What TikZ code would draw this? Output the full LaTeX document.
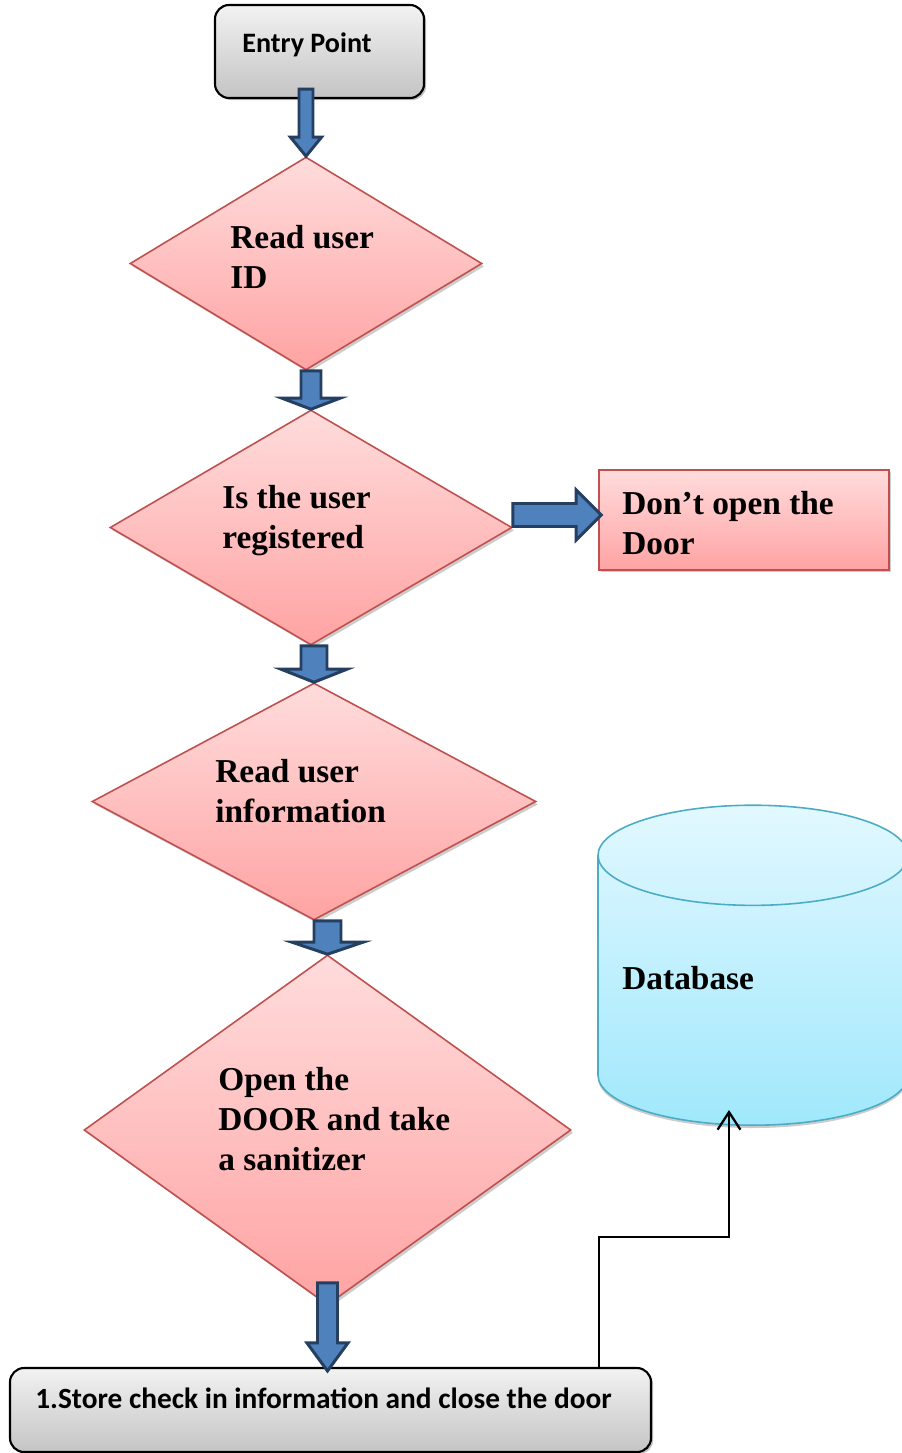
\documentclass[tikz,border=0pt]{standalone}
\usepackage{fontspec}
\setmainfont{Liberation Serif}
\newfontfamily\calibrifont{Carlito}
\usetikzlibrary{shapes.geometric,shadows,calc,arrows.meta}

\definecolor{pinktop}{HTML}{FFDCDC}
\definecolor{pinkbot}{HTML}{FFA3A3}
\definecolor{pinkline}{HTML}{C0504D}
\definecolor{graytop}{HTML}{F2F2F2}
\definecolor{graybot}{HTML}{C4C4C4}
\definecolor{cyantop}{HTML}{E2F8FF}
\definecolor{cyanbot}{HTML}{A0E8FC}
\definecolor{cyanline}{HTML}{4BACC6}
\definecolor{arrowfill}{HTML}{4F81BD}
\definecolor{arrowline}{HTML}{243F60}

\newcommand{\pxu}{0.02cm}

\begin{document}
\begin{tikzpicture}[x=0.02cm, y=-0.02cm,
    decision/.style={diamond, draw=pinkline, line width=0.9pt, top color=pinktop, bottom color=pinkbot, inner sep=0pt, drop shadow={shadow xshift=1.3pt, shadow yshift=-1.6pt, opacity=.4}},
    terminal/.style={rectangle, rounded corners=8pt, draw=black, line width=1.2pt, top color=graytop, bottom color=graybot, drop shadow={shadow xshift=1.2pt, shadow yshift=-1.2pt, opacity=.5}},
    stopbox/.style={rectangle, draw=pinkline, line width=0.9pt, top color=pinktop, bottom color=pinkbot, drop shadow={shadow xshift=1.2pt, shadow yshift=-1.2pt, opacity=.4}},
    dbstore/.style={cylinder, shape border rotate=90, inner sep=5pt, aspect=5.7, draw=cyanline, line width=0.9pt, top color=cyantop, bottom color=cyanbot, drop shadow={shadow xshift=0pt, shadow yshift=-1.6pt, opacity=.4}},
    lbl/.style={inner sep=0pt, anchor=north west, align=left, font=\bfseries\fontsize{19}{22.8}\selectfont},
    boxlbl/.style={inner sep=0pt, anchor=north west, align=left, font=\calibrifont\bfseries\fontsize{16}{19.2}\selectfont},
    blockarrow/.style={draw=arrowline, fill=arrowfill, line width=1.7pt},
    blockdown/.style n args={3}{to path={($(\tikztostart)+(-#1,0)$) -- ($(\tikztotarget)+(-#1,-#3)$) -- ($(\tikztotarget)+(-#2,-#3)$) -- (\tikztotarget) -- ($(\tikztotarget)+(#2,-#3)$) -- ($(\tikztotarget)+(#1,-#3)$) -- ($(\tikztostart)+(#1,0)$) -- cycle}},
    blockright/.style n args={3}{to path={($(\tikztostart)+(0,-#1)$) -- ($(\tikztotarget)+(-#3,-#1)$) -- ($(\tikztotarget)+(-#3,-#2)$) -- (\tikztotarget) -- ($(\tikztotarget)+(-#3,#2)$) -- ($(\tikztotarget)+(-#3,#1)$) -- ($(\tikztostart)+(0,#1)$) -- cycle}},
    feed/.style={line width=1.3pt, -{Straight Barb[length=10pt, width=13pt]}}]

  \useasboundingbox (0,0) rectangle (902,1453);
  \clip (0,0) rectangle (902,1453);

  % shapes
  \node[terminal, minimum width=209*\pxu, minimum height=93*\pxu] (entry) at (319.5,51.5) {};
  \node[decision, minimum width=352*\pxu, minimum height=213*\pxu] (readid) at (306,263.5) {};
  \node[decision, minimum width=402*\pxu, minimum height=235*\pxu] (isreg) at (311,527.5) {};
  \node[stopbox, minimum width=290*\pxu, minimum height=100*\pxu] (dont) at (744,520) {};
  \node[decision, minimum width=444*\pxu, minimum height=237*\pxu] (readinfo) at (314,801.5) {};
  \node[decision, minimum width=487*\pxu, minimum height=350*\pxu] (opendoor) at (327.5,1130) {};
  \node[dbstore, minimum width=310*\pxu, minimum height=320*\pxu, anchor=south] (db) at (753,1126) {};
  \node[terminal, minimum width=641*\pxu, minimum height=84*\pxu] (store) at (330.5,1410) {};

  % texts
  \node[boxlbl] (entrytxt) at (242,32) {Entry Point};
  \node[lbl] (readidtxt) at (230,225) {Read user\\ID};
  \node[lbl] (isregtxt) at (222,485) {Is the user\\registered};
  \node[lbl] (donttxt) at (622,491) {Don’t open the\\Door};
  \node[lbl] (readinfotxt) at (215,759) {Read user\\information};
  \node[lbl] (opendoortxt) at (218,1067) {Open the\\DOOR and take\\a sanitizer};
  \node[lbl] (dbtxt) at (622,966) {Database};
  \node[boxlbl, font=\calibrifont\bfseries\fontsize{16.7}{20}\selectfont] (storetxt) at (35,1388) {1.Store check in information and close the door};

  % block arrows
  \coordinate (a1s) at ($(readid.north |- entry.south)+(0,-10)$);
  \path[blockarrow] (a1s) to[blockdown={7}{15.5}{19}] (readid.north);
  \coordinate (a2s) at (isreg.north |- readid.south);
  \path[blockarrow] (a2s) to[blockdown={10}{29}{11}] (isreg.north);
  \coordinate (a3s) at (readinfo.north |- isreg.south);
  \path[blockarrow] (a3s) to[blockdown={13}{33}{13}] (readinfo.north);
  \coordinate (a4s) at (opendoor.north |- readinfo.south);
  \path[blockarrow] (a4s) to[blockdown={13.5}{35.5}{12}] (opendoor.north);
  \coordinate (a5s) at ($(opendoor.south)+(0,-23)$);
  \coordinate (a5e) at ($(opendoor.south |- store.north)+(0,4)$);
  \path[blockarrow] (a5s) to[blockdown={10}{20.5}{28}] (a5e);
  \coordinate (r1s) at ($(isreg.east)+(0,-12.5)$);
  \coordinate (r1e) at ($(dont.west)+(3,-5)$);
  \path[blockarrow] (r1s) to[blockright={11.5}{25}{25}] (r1e);

  % line to the database
  \coordinate (dbin) at ($(db.south)+(-24,-16)$);
  \draw[feed] (store.north -| 599,0) |- ($(dbin)+(0,127)$) -- (dbin);
\end{tikzpicture}
\end{document}
